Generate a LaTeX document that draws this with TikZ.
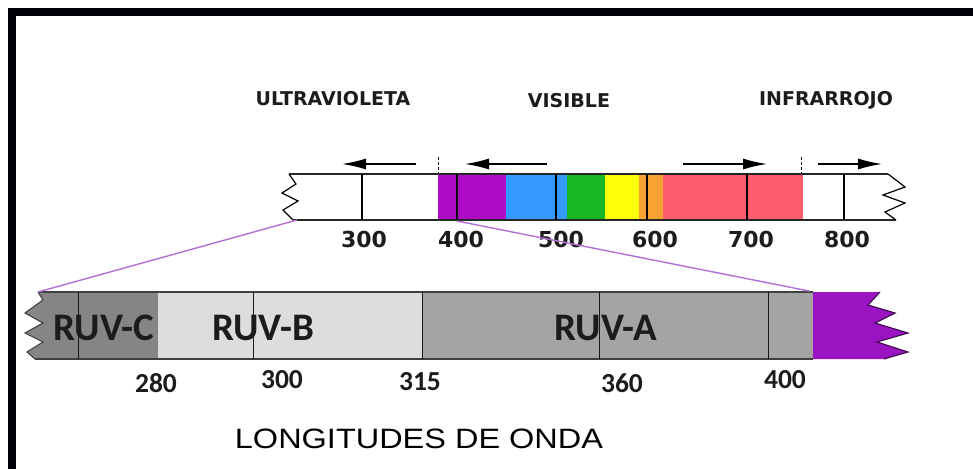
\documentclass[tikz,border=0pt]{standalone}
\usepackage{fontspec}
\usepackage{graphicx}
\usetikzlibrary{arrows.meta}
\newfontfamily\dvs{DejaVu Sans}
\newfontfamily\carl{Carlito}
\newfontfamily\libs{Liberation Sans}
\definecolor{vioT}{HTML}{AE0CC4}
\definecolor{bluT}{HTML}{3399FF}
\definecolor{grnT}{HTML}{18B622}
\definecolor{yelT}{HTML}{FFFF0A}
\definecolor{oraT}{HTML}{F7A232}
\definecolor{redT}{HTML}{FF5C6E}
\definecolor{vioB}{HTML}{9A14C2}
\definecolor{gryC}{HTML}{858585}
\definecolor{gryB}{HTML}{DDDDDD}
\definecolor{gryA}{HTML}{A4A4A4}
\definecolor{linkc}{HTML}{B070D4}
\definecolor{txt}{HTML}{1C1C1C}
\tikzset{
  barline/.style={line width=1.3pt, draw=black!85},
  tickline/.style={line width=1.2pt, draw=black},
  thintick/.style={line width=1pt, draw=black!90},
  dashtick/.style={line width=1pt, draw=black, dash pattern=on 3pt off 2pt},
  spanarrow/.style={line width=1.4pt, -{Latex[length=24pt,width=11pt]}},
  linkline/.style={line width=1.4pt, draw=linkc},
  bandlbl/.style={inner sep=0pt, anchor=base, text=txt, font=\dvs\bfseries\fontsize{19}{22}\selectfont},
  topnum/.style={inner sep=0pt, anchor=base, text=txt, font=\dvs\bfseries\fontsize{22}{24}\selectfont},
  ruvlbl/.style={inner sep=0pt, anchor=base, text=txt, font=\carl\bfseries\fontsize{39}{44}\selectfont},
  botnum/.style={inner sep=0pt, anchor=base, text=txt, font=\carl\bfseries\fontsize{27.5}{30}\selectfont},
  axislbl/.style={inner sep=0pt, anchor=base, text=black, font=\libs\fontsize{28}{32}\selectfont},
}
\begin{document}
\begin{tikzpicture}[x=1pt,y=-1pt]
\useasboundingbox (0,0) rectangle (973,468);
\fill[white] (0,0) rectangle (973,468);

% frame
\draw[line width=8pt, color=black!96!blue, line join=miter] (12,470) -- (12,12) -- (975,12);

% ---------- top spectrum bar ----------
\fill[vioT] (438,174) rectangle (506,220);
\fill[bluT] (506,174) rectangle (567,220);
\fill[grnT] (567,174) rectangle (605,220);
\fill[yelT] (605,174) rectangle (639,220);
\fill[oraT] (639,174) rectangle (663,220);
\fill[redT] (663,174) rectangle (803,220);
\draw[barline] (289,174) -- (888,174);
\draw[barline] (293,220) -- (896,220);
% zigzags
\draw[line width=1.2pt, line join=miter] (289,174) -- (296,184) -- (282,193) -- (298,201) -- (283,210) -- (293,220);
\draw[line width=1.2pt, line join=miter] (888,174) -- (905,187) -- (883,195) -- (905,203) -- (885,212) -- (896,220);
% ticks
\foreach \x in {362,457,556,647,747,844} \draw[tickline] (\x,174) -- (\x,220);
\draw[dashtick] (438,157) -- (438,174);
\draw[dashtick] (801,157) -- (801,174);

% arrows
\coordinate (uvA) at (416,164); \coordinate (uvB) at (342,164);
\coordinate (viA) at (547,164); \coordinate (viB) at (465,164);
\coordinate (vrA) at (683,164); \coordinate (vrB) at (767,164);
\coordinate (irA) at (818,164); \coordinate (irB) at (882,164);
\draw[spanarrow] (uvA) -- (uvB);
\draw[spanarrow] (viA) -- (viB);
\draw[spanarrow] (vrA) -- (vrB);
\draw[spanarrow] (irA) -- (irB);

% band labels
\node[bandlbl] (luv) at (333,106) {ULTRAVIOLETA};
\node[bandlbl] (lvis) at (569,107) {VISIBLE};
\node[bandlbl] (lir) at (826,106) {INFRARROJO};

% top numbers
\node[topnum] (t300) at (364,247) {300};
\node[topnum] (t400) at (461,247) {400};
\node[topnum] (t500) at (561,247) {500};
\node[topnum] (t600) at (655,247) {600};
\node[topnum] (t700) at (751,247) {700};
\node[topnum] (t800) at (847,247) {800};

% ---------- bottom UV bar ----------
\fill[gryC] (38,292) -- (43,300) -- (25,313) -- (43,323) -- (25,333) -- (43,342) -- (27,352) -- (35,359) -- (158,359) -- (158,292) -- cycle;
\fill[gryB] (158,292) rectangle (422,359);
\fill[gryA] (422,292) rectangle (813,359);
\fill[vioB] (813,292) -- (880,292) -- (868,305) -- (895,313) -- (875,323) -- (908,333) -- (877,342) -- (908,352) -- (884,359) -- (813,359) -- cycle;
\draw[line width=1.1pt, draw=black!75, line join=miter] (38,292) -- (43,300) -- (25,313) -- (43,323) -- (25,333) -- (43,342) -- (27,352) -- (35,359);
\draw[line width=1.1pt, draw=black!60!vioB, line join=miter] (880,292) -- (868,305) -- (895,313) -- (875,323) -- (908,333) -- (877,342) -- (908,352) -- (884,359);
\draw[barline, line width=1.6pt, draw=black!75] (38,292) -- (813,292);
\draw[barline, line width=1.6pt, draw=black!75] (35,359) -- (813,359);
\foreach \x in {78,253,422,599,768} \draw[thintick] (\x,292) -- (\x,359);

% links between bars
\coordinate (topL) at (297,220);
\coordinate (botL) at (38,292);
\coordinate (topR) at (457,221);
\coordinate (botR) at (809,291);
\draw[linkline] (topL) -- (botL);
\draw[linkline] (topR) -- (botR);

% UV labels
\node[ruvlbl] (rc) at (104,340) {RUV-C};
\node[ruvlbl] (rb) at (263,340) {RUV-B};
\node[ruvlbl] (ra) at (606,340) {RUV-A};

% bottom numbers
\node[botnum] (b280) at (156,392) {280};
\node[botnum] (b300) at (282,388) {300};
\node[botnum] (b315) at (420,390) {315};
\node[botnum] (b360) at (622,392) {360};
\node[botnum] (b400) at (785,388) {400};

\node[axislbl] (axis) at (419,448) {\scalebox{1.16}[1]{LONGITUDES DE ONDA}};
\end{tikzpicture}
\end{document}
